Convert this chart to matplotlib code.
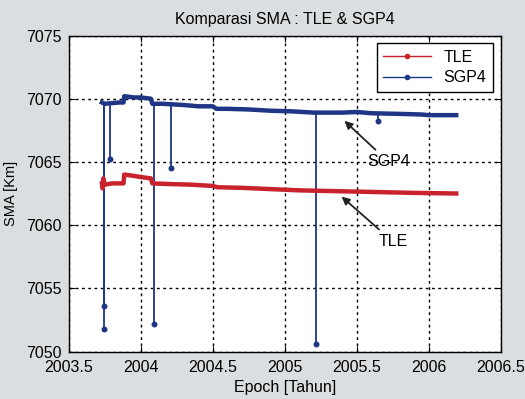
import matplotlib.pyplot as plt

# SMA per epoch, TLE vs SGP4 propagation
tle_epoch = [2003.730, 2003.735, 2003.740, 2003.750, 2003.800, 2003.880,
             2003.885, 2003.950, 2004.000, 2004.070, 2004.080, 2004.200,
             2004.350, 2004.500, 2004.530, 2004.700, 2004.900, 2005.100,
             2005.300, 2005.500, 2005.700, 2005.900, 2006.190]
tle_sma = [7063.3, 7062.9, 7063.7, 7063.2, 7063.3, 7063.3,
           7064.0, 7063.9, 7063.8, 7063.7, 7063.3, 7063.25,
           7063.2, 7063.1, 7063.0, 7062.95, 7062.85, 7062.75,
           7062.7, 7062.65, 7062.6, 7062.55, 7062.5]

sgp4_epoch = [2003.730, 2003.750, 2003.850, 2003.880, 2003.885, 2003.950,
              2004.000, 2004.070, 2004.080, 2004.150, 2004.300, 2004.400,
              2004.500, 2004.525, 2004.600, 2004.750, 2004.900, 2005.050,
              2005.200, 2005.400, 2005.500, 2005.600, 2005.800, 2005.950,
              2006.000, 2006.190]
sgp4_sma = [7069.7, 7069.6, 7069.7, 7069.7, 7070.2, 7070.1,
            7070.1, 7070.0, 7069.6, 7069.6, 7069.5, 7069.4,
            7069.4, 7069.2, 7069.2, 7069.15, 7069.05, 7069.0,
            7068.9, 7068.9, 7068.95, 7068.85, 7068.8, 7068.75,
            7068.7, 7068.7]

# single-epoch outliers of SGP4: level before the drop and the dropped value
spike_epoch = [2003.745, 2003.745, 2003.785, 2004.092, 2004.212, 2005.217, 2005.650]
spike_top = [7069.6, 7069.6, 7069.6, 7069.6, 7069.6, 7068.9, 7068.85]
spike_low = [7051.8, 7053.6, 7065.2, 7052.2, 7064.5, 7050.6, 7068.2]

xticks = [2003.5, 2004, 2004.5, 2005, 2005.5, 2006, 2006.5]
yticks = [7050, 7055, 7060, 7065, 7070, 7075]

plt.rcParams['font.family'] = ['Liberation Sans', 'DejaVu Sans']

red = '#c8222c'
blue = '#1f3585'

fig = plt.figure(figsize=(5.25, 3.99), dpi=100, facecolor='#dadee1')
ax = fig.add_axes([0.131, 0.119, 0.823, 0.792])
ax.set_facecolor('white')

ax.vlines(spike_epoch, spike_low, spike_top, color=blue, lw=1.3)
ax.plot(spike_epoch, spike_low, '.', color=blue, ms=6.5)
ax.plot(tle_epoch, tle_sma, '-', color=red, lw=3.2)
ax.plot(sgp4_epoch, sgp4_sma, '-', color=blue, lw=3.2)

# proxy handles so the legend shows thin line with dot marker
ax.plot([], [], '.-', color=red, lw=1.0, ms=6, label='TLE')
ax.plot([], [], '.-', color=blue, lw=1.0, ms=6, label='SGP4')

ax.set_xlim(2003.5, 2006.5)
ax.set_ylim(7050, 7075)
ax.set_xticks(xticks)
ax.set_xticklabels(['2003.5', '2004', '2004.5', '2005', '2005.5', '2006', '2006.5'])
ax.set_yticks(yticks)
ax.tick_params(direction='in', top=True, right=True, labelsize=11.5, length=4)
ax.tick_params(axis='x', pad=6)
ax.tick_params(axis='y', pad=5)
ax.grid(True, color='black', linestyle=(0, (2, 2.5)), lw=1.0)
for s in ax.spines.values():
    s.set_linewidth(1.0)

ax.set_title('Komparasi SMA : TLE & SGP4', fontsize=11.5, pad=8)
ax.set_xlabel('Epoch [Tahun]', fontsize=11.5, labelpad=4)
ax.set_ylabel('SMA [Km]', fontsize=10.5, labelpad=6)

leg = ax.legend(loc='upper right', fontsize=11.5, fancybox=False, framealpha=1,
                edgecolor='black', borderaxespad=0.5, handlelength=3.0,
                labelspacing=0.35)
leg.get_frame().set_linewidth(1.0)

ax.annotate('SGP4', xy=(2005.4, 7068.4), xytext=(2005.72, 7065.0),
            ha='center', va='center', fontsize=11.5,
            arrowprops=dict(arrowstyle='-|>', color='#222222', lw=1.3))
ax.annotate('TLE', xy=(2005.38, 7062.4), xytext=(2005.75, 7058.7),
            ha='center', va='center', fontsize=11.5,
            arrowprops=dict(arrowstyle='-|>', color='#222222', lw=1.3))

fig.savefig('out.png', dpi=100, facecolor=fig.get_facecolor())
